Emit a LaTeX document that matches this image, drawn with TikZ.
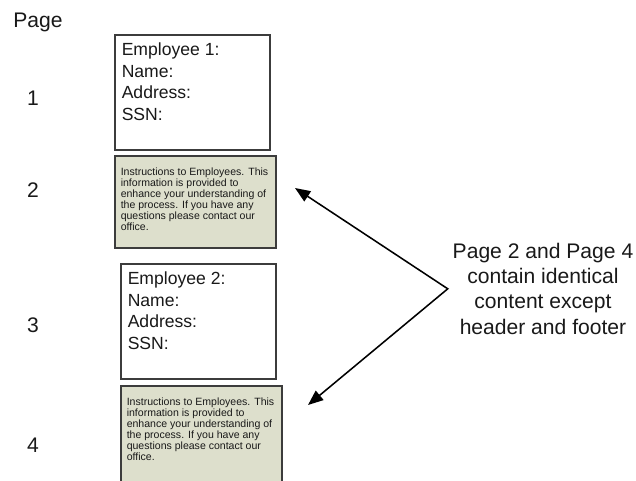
\documentclass[tikz,border=0pt]{standalone}
\usepackage{fontspec}
\setmainfont{Liberation Sans}
\usetikzlibrary{arrows.meta, positioning}
\definecolor{boxline}{RGB}{60,60,60}
\definecolor{notefill}{RGB}{221,223,204}
\begin{document}
\begin{tikzpicture}[
    every node/.style={align=center, text=black!90},
    pagenum/.style={font=\fontsize{15}{18}\selectfont},
    empbox/.style={rectangle, draw=boxline, line width=1.1pt, fill=white, anchor=north west, inner xsep=0.175cm, inner ysep=0.2cm, font=\fontsize{12.5}{15.3}\selectfont},
    notebox/.style={rectangle, draw=boxline, line width=1.1pt, fill=notefill, anchor=north west, inner xsep=0.15cm, inner ysep=0.3cm, font=\fontsize{7.5}{7.8}\selectfont},
    arrow/.style={{Triangle[length=0.38cm, width=0.3cm]}-{Triangle[length=0.38cm, width=0.3cm]}, line width=1.1pt, black}
]
\useasboundingbox (0,0) rectangle (15.9,-12);

% Page column
\node[pagenum] (pagehead) at (0.95,-0.55) {Page};
\node[pagenum] (num1) at (0.825,-2.45) {1};
\node[pagenum] (num2) at (0.825,-4.75) {2};
\node[pagenum] (num3) at (0.825,-8.125) {3};
\node[pagenum] (num4) at (0.825,-11.125) {4};

% Pages
\node[empbox] (emp1) at (2.85,-0.85) {\parbox[t][2.475cm][t]{3.525cm}{\raggedright Employee 1:\\Name:\\Address:\\SSN:}};
\node[notebox] (instr1) at (2.85,-3.875) {\parbox[t][1.7cm][t]{3.725cm}{\raggedright Instructions to Employees. This\\information is provided to\\enhance your understanding of\\the process. If you have any\\questions please contact our\\office.}};
\node[empbox] (emp2) at (3.0,-6.575) {\parbox[t][2.475cm][t]{3.525cm}{\raggedright Employee 2:\\Name:\\Address:\\SSN:}};
\node[notebox] (instr2) at (3.0,-9.625) {\parbox[t][2cm][t]{3.725cm}{\raggedright Instructions to Employees. This\\information is provided to\\enhance your understanding of\\the process. If you have any\\questions please contact our\\office.}};

% Note
\node[font=\fontsize{15}{18}\selectfont] (note) at (13.575,-7.22) {Page 2 and Page 4\\contain identical\\content except\\header and footer};

% Arrows
\coordinate (tip2) at (7.375,-4.7);
\coordinate (tip4) at (7.7,-10.125);
\draw[arrow] (tip2) -- (note.west) -- (tip4);

\end{tikzpicture}
\end{document}
